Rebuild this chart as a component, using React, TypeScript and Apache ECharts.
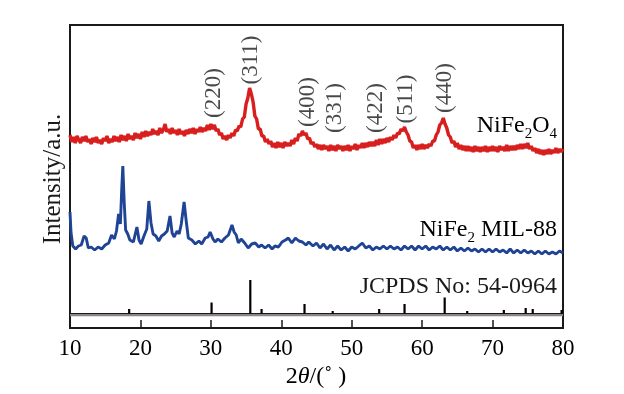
import React, { useEffect, useRef } from 'react';
import * as echarts from 'echarts';

// NiFe2O4 (red) pattern: [2θ, intensity (a.u., offset)]
const nife2o4: number[][] = [
  [10,193],[10.25,186],[10.5,191],[10.75,185],[11,192],[11.25,188],[11.5,185],[11.75,191],
  [12,187],[12.25,192],[12.5,186],[12.75,189],[13,184],[13.25,190],[13.5,186],[13.75,191],
  [14,185],[14.25,188],[14.5,184],[14.75,190],[15,187],[15.25,192],[15.5,185],[15.75,189],
  [16,186],[16.25,192],[16.5,187],[16.75,191],[17,186],[17.25,193],[17.5,188],[17.75,192],
  [18,187],[18.25,194],[18.5,189],[18.75,192],[19,188],[19.25,195],[19.5,190],[19.75,194],
  [20,189],[20.25,196],[20.5,191],[20.75,197],[21,192],[21.25,196],[21.5,193],[21.75,199],
  [22,194],[22.25,197],[22.5,193],[22.75,200],[23,195],[23.25,198],[23.5,204],[23.75,196],
  [24,199],[24.25,194],[24.5,200],[24.75,195],[25,198],[25.25,193],[25.5,199],[25.75,194],
  [26,197],[26.25,192],[26.5,198],[26.75,194],[27,199],[27.25,195],[27.5,200],[27.75,194],
  [28,199],[28.25,196],[28.5,201],[28.75,196],[29,200],[29.25,197],[29.5,203],[29.75,198],
  [30,204],[30.25,199],[30.5,203],[30.75,197],[31,199],[31.25,193],[31.5,195],[31.75,189],
  [32,192],[32.25,188],[32.5,193],[32.75,190],[33,195],[33.25,192],[33.5,198],[33.75,197],
  [34,202],[34.25,201],[34.5,209],[34.75,211],[35,224],[35.25,230],[35.5,240],[35.75,234],
  [36,226],[36.25,212],[36.5,209],[36.75,199],[37,199],[37.25,192],[37.5,192],[37.75,186],
  [38,189],[38.25,184],[38.5,187],[38.75,181],[39,185],[39.25,180],[39.5,186],[39.75,181],
  [40,185],[40.25,180],[40.5,186],[40.75,182],[41,185],[41.25,182],[41.5,188],[41.75,184],
  [42,190],[42.25,187],[42.5,194],[42.75,192],[43,197],[43.25,193],[43.5,195],[43.75,189],
  [44,190],[44.25,184],[44.5,186],[44.75,181],[45,184],[45.25,179],[45.5,183],[45.75,178],
  [46,183],[46.25,179],[46.5,182],[46.75,177],[47,183],[47.25,178],[47.5,182],[47.75,177],
  [48,183],[48.25,179],[48.5,182],[48.75,177],[49,182],[49.25,178],[49.5,183],[49.75,177],
  [50,182],[50.25,179],[50.5,184],[50.75,178],[51,183],[51.25,180],[51.5,185],[51.75,180],
  [52,185],[52.25,181],[52.5,186],[52.75,182],[53,186],[53.25,182],[53.5,188],[53.75,183],
  [54,189],[54.25,184],[54.5,189],[54.75,185],[55,190],[55.25,186],[55.5,191],[55.75,188],
  [56,193],[56.25,190],[56.5,195],[56.75,194],[57,199],[57.25,197],[57.5,201],[57.75,196],
  [58,193],[58.25,187],[58.5,186],[58.75,180],[59,183],[59.25,178],[59.5,183],[59.75,179],
  [60,184],[60.25,179],[60.5,183],[60.75,180],[61,184],[61.25,182],[61.5,187],[61.75,187],
  [62,193],[62.25,196],[62.5,203],[62.75,205],[63,210],[63.25,204],[63.5,200],[63.75,193],
  [64,191],[64.25,185],[64.5,187],[64.75,181],[65,185],[65.25,179],[65.5,183],[65.75,178],
  [66,182],[66.25,177],[66.5,182],[66.75,177],[67,181],[67.25,176],[67.5,182],[67.75,177],
  [68,181],[68.25,176],[68.5,181],[68.75,177],[69,182],[69.25,176],[69.5,181],[69.75,177],
  [70,182],[70.25,177],[70.5,181],[70.75,176],[71,182],[71.25,178],[71.5,181],[71.75,177],
  [72,183],[72.25,177],[72.5,182],[72.75,178],[73,182],[73.25,178],[73.5,183],[73.75,179],
  [74,184],[74.25,179],[74.5,184],[74.75,180],[75,185],[75.25,179],[75.5,182],[75.75,177],
  [76,180],[76.25,175],[76.5,179],[76.75,174],[77,178],[77.25,173],[77.5,178],[77.75,174],
  [78,179],[78.25,174],[78.5,178],[78.75,175],[79,180],[79.25,175],[79.5,179],[79.75,176],
  [80,179]
];

// NiFe2 MIL-88 (blue) pattern
const mil88: number[][] = [
  [10,116],[10.15,95],[10.4,82],[10.8,79],[11.2,82],[11.6,83],[12,92],[12.3,90],[12.6,80],[13,81],
  [13.5,78],[14,81],[14.5,79],[15,83],[15.5,85],[15.9,93],[16.3,89],[16.6,97],[16.9,114],[17.15,104],
  [17.35,140],[17.5,162],[17.7,125],[17.9,98],[18.2,94],[18.5,88],[19,86],[19.5,101],[19.8,88],[20.1,84],
  [20.5,92],[20.9,99],[21.2,127],[21.5,105],[21.8,94],[22.2,92],[22.6,87],[23,92],[23.4,94],[23.8,97],
  [24.2,112],[24.5,95],[24.8,91],[25.2,97],[25.5,94],[25.8,104],[26.2,126],[26.5,107],[26.8,90],[27.3,88],
  [27.8,84],[28.3,87],[28.7,84],[29.2,90],[29.6,91],[29.9,96],[30.3,89],[30.6,86],[31,89],[31.5,86],
  [32,90],[32.5,93],[33,103],[33.3,96],[33.6,93],[33.9,85],[34.3,89],[34.8,85],[35.3,80],[35.8,84],
  [36.3,85],[36.8,81],[37.2,83],[37.7,80],[38.2,83],[38.7,79],[39.1,82],[39.6,81],[40.1,86],[40.6,88],
  [41,90],[41.5,85],[42,90],[42.5,87],[43,86],[43.5,83],[43.9,86],[44.5,82],[45,85],[45.5,80],
  [46,84],[46.5,79],[47,83],[47.5,78],[48,82],[48.5,78],[49,81],[49.5,77],[50,81],[50.5,79],
  [51,82],[51.5,85],[52,80],[52.5,82],[53,78],[53.5,81],[54,79],[54.5,82],[55,79],[55.5,82],
  [56,79],[56.5,81],[57,78],[57.5,82],[58,79],[58.5,82],[59,78],[59.5,82],[60,79],[60.5,82],
  [61,78],[61.5,81],[62,79],[62.5,82],[63,78],[63.5,81],[64,78],[64.5,81],[65,77],[65.5,80],
  [66,77],[66.5,80],[67,77],[67.5,79],[68,76],[68.5,79],[69,76],[69.5,79],[70,76],[70.5,79],
  [71,76],[71.5,78],[72,75],[72.5,79],[73,75],[73.5,78],[74,75],[74.5,78],[75,75],[75.5,77],
  [76,74],[76.5,77],[77,74],[77.5,77],[78,74],[78.5,76],[79,74],[79.5,77],[80,75]
];

// JCPDS No: 54-0964 reference lines
const jcpdsPos = [18.4, 30.1, 35.6, 37.2, 43.3, 47.3, 53.9, 57.5, 63.2, 66.4, 71.6, 74.7, 75.7, 79.8];
const jcpdsHeight = [4.5, 11, 33.5, 4.5, 9.5, 2.5, 4.5, 9.5, 16, 2.5, 3.5, 5.5, 4.5, 3.5];
const stickBase = 14.5;
const refLineLevel = 13;

// Miller index annotations
const hklLabels = ['(220)', '(311)', '(400)', '(331)', '(422)', '(511)', '(440)'];
const hklPos = [30.3, 35.5, 43.6, 47.4, 53.2, 57.5, 63.0];
const hklY = [235, 268, 226, 220, 220, 229, 240];

const xTicks = [10, 20, 30, 40, 50, 60, 70, 80];

const FONT = "'Liberation Serif', 'Times New Roman', serif";
const INK = '#1a1a1a';

export default function App() {
  const ref = useRef<HTMLDivElement>(null);
  useEffect(() => {
    document.body.style.margin = '0';
    const chart = echarts.init(ref.current!, null, { renderer: 'svg' });
    const subRich = {
      n: { fontSize: 24, fontFamily: FONT, color: INK, lineHeight: 32, verticalAlign: 'middle' },
      s: { fontSize: 15, fontFamily: FONT, color: INK, lineHeight: 15, verticalAlign: 'bottom' },
      i: { fontSize: 24, fontFamily: FONT, color: INK, lineHeight: 32, fontStyle: 'italic', verticalAlign: 'middle' },
    };
    chart.setOption({
      animation: false,
      textStyle: { fontFamily: FONT },
      grid: {
        left: 70, right: 61, top: 25, bottom: 66,
        show: true, borderColor: INK, borderWidth: 2,
        containLabel: false, outerBoundsMode: 'none',
      },
      xAxis: {
        type: 'value', min: xTicks[0], max: xTicks[xTicks.length - 1], interval: 10,
        axisLine: { show: true, lineStyle: { color: INK, width: 2 } },
        axisTick: { show: true, inside: true, length: 8, lineStyle: { color: INK, width: 1.5 } },
        axisLabel: { color: '#000', fontSize: 23, fontFamily: FONT, margin: 8 },
        splitLine: { show: false },
      },
      yAxis: {
        type: 'value', min: 0, max: 303,
        axisLine: { show: true, lineStyle: { color: INK, width: 2 } },
        axisTick: { show: false }, axisLabel: { show: false }, splitLine: { show: false },
      },
      series: [
        {
          type: 'line', data: [[10, refLineLevel], [80, refLineLevel]], symbol: 'none',
          lineStyle: { color: '#8a8482', width: 2.5 }, silent: true, z: 1,
        },
        {
          type: 'line', data: [[10, stickBase], [80, stickBase]], symbol: 'none',
          lineStyle: { color: INK, width: 1 }, silent: true, z: 2,
        },
        {
          type: 'custom', z: 3,
          encode: { x: 0, y: 1 },
          data: jcpdsPos.map((p, i) => [p, jcpdsHeight[i]]),
          renderItem: (params: any, api: any) => {
            const x = api.value(0);
            const h = api.value(1);
            const p0 = api.coord([x, stickBase]);
            const p1 = api.coord([x, stickBase + h]);
            return {
              type: 'line',
              shape: { x1: p0[0], y1: p0[1], x2: p1[0], y2: p1[1] },
              style: { stroke: '#000', lineWidth: 2.2 },
            };
          },
        },
        {
          name: 'NiFe2 MIL-88', type: 'line', data: mil88, symbol: 'none',
          lineStyle: { color: '#1f4495', width: 2.9 }, z: 4,
        },
        {
          name: 'NiFe2O4', type: 'line', data: nife2o4, symbol: 'none',
          lineStyle: { color: '#d91e1e', width: 3.4 }, z: 5,
        },
        {
          type: 'scatter', symbolSize: 1, itemStyle: { color: 'rgba(0,0,0,0)' }, z: 6,
          data: hklLabels.map((t, i) => ({ name: t, value: [hklPos[i], hklY[i]] })),
          label: {
            show: true, position: 'inside', rotate: 90, formatter: '{b}',
            fontSize: 23, fontFamily: FONT, color: INK,
          },
        },
      ],
      graphic: [
        {
          type: 'text', x: 557, y: 124,
          style: { text: '{n|NiFe}{s|2}{n|O}{s|4}', rich: subRich, align: 'right', verticalAlign: 'middle' },
        },
        {
          type: 'text', x: 557, y: 228,
          style: { text: '{n|NiFe}{s|2}{n| MIL-88}', rich: subRich, align: 'right', verticalAlign: 'middle' },
        },
        {
          type: 'text', x: 557, y: 285,
          style: { text: 'JCPDS No: 54-0964', fontSize: 24, fontFamily: FONT, fill: INK, align: 'right', verticalAlign: 'middle' },
        },
        {
          type: 'text', x: 316, y: 375,
          style: { text: '{n|2}{i|θ}{n|/(˚ )}', rich: subRich, align: 'center', verticalAlign: 'middle' },
        },
        {
          type: 'text', x: 51, y: 179, rotation: Math.PI / 2,
          style: { text: 'Intensity/a.u.', fontSize: 25, fontFamily: FONT, fill: INK, align: 'center', verticalAlign: 'middle' },
        },
      ],
    });
    return () => chart.dispose();
  }, []);
  return <div ref={ref} style={{ position: 'fixed', left: 0, top: 0, width: 624, height: 394 }} />;
}
